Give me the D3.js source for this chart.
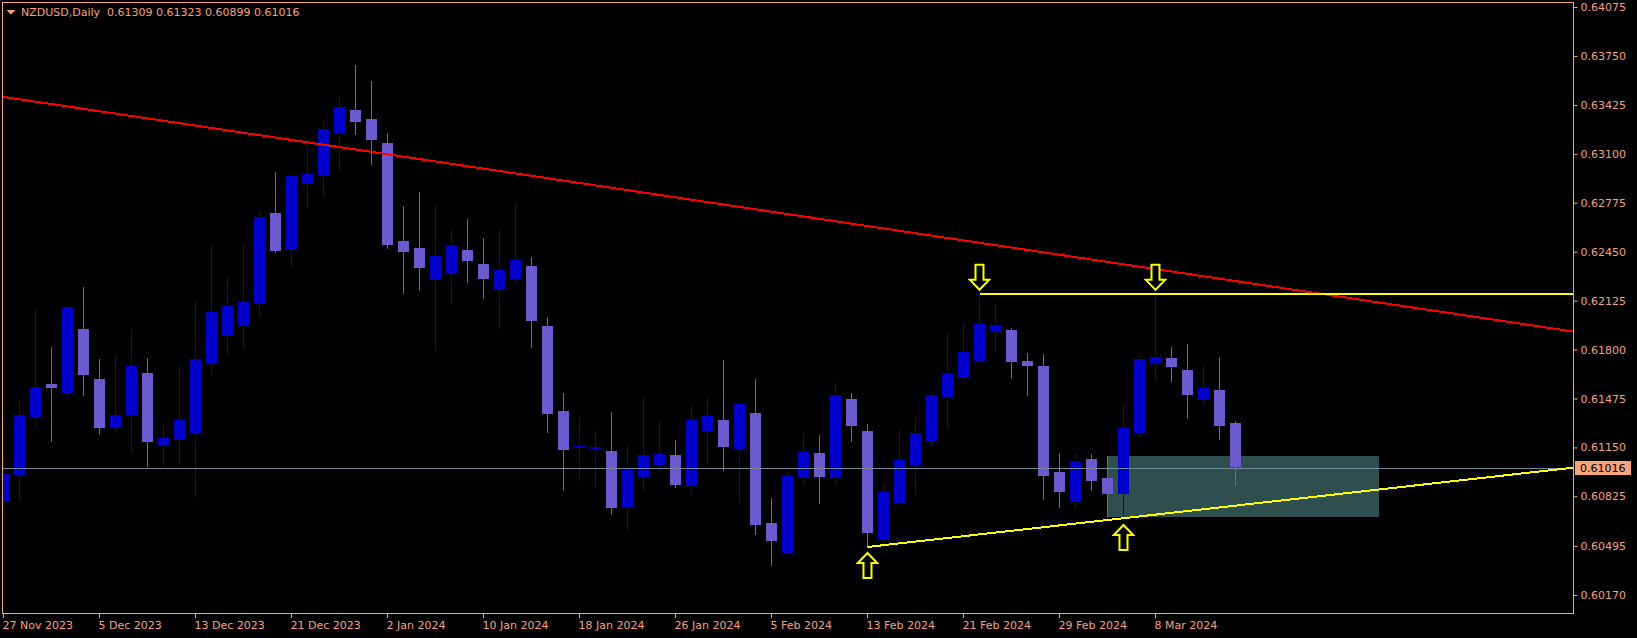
<!DOCTYPE html>
<html><head><meta charset="utf-8">
<script src="https://cdn.jsdelivr.net/npm/d3@7"></script>
<style>
html,body{margin:0;padding:0;background:#000;overflow:hidden}
svg{display:block;font-family:"DejaVu Sans",sans-serif}
</style></head>
<body><svg id="c" width="1637" height="638"></svg>
<script>
// ---------- DATA ----------
const symbol = "NZDUSD,Daily";
const lastQuote = [0.61309, 0.61323, 0.60899, 0.61016]; // O H L C of last bar
const bidPrice = 0.61016;

const dates = [
"27 Nov 2023","28 Nov 2023","29 Nov 2023","30 Nov 2023","1 Dec 2023","4 Dec 2023","5 Dec 2023","6 Dec 2023","7 Dec 2023","8 Dec 2023",
"11 Dec 2023","12 Dec 2023","13 Dec 2023","14 Dec 2023","15 Dec 2023","18 Dec 2023","19 Dec 2023","20 Dec 2023","21 Dec 2023","22 Dec 2023",
"26 Dec 2023","27 Dec 2023","28 Dec 2023","29 Dec 2023","2 Jan 2024","3 Jan 2024","4 Jan 2024","5 Jan 2024","8 Jan 2024","9 Jan 2024",
"10 Jan 2024","11 Jan 2024","12 Jan 2024","15 Jan 2024","16 Jan 2024","17 Jan 2024","18 Jan 2024","19 Jan 2024","22 Jan 2024","23 Jan 2024",
"24 Jan 2024","25 Jan 2024","26 Jan 2024","29 Jan 2024","30 Jan 2024","31 Jan 2024","1 Feb 2024","2 Feb 2024","5 Feb 2024","6 Feb 2024",
"7 Feb 2024","8 Feb 2024","9 Feb 2024","12 Feb 2024","13 Feb 2024","14 Feb 2024","15 Feb 2024","16 Feb 2024","19 Feb 2024","20 Feb 2024",
"21 Feb 2024","22 Feb 2024","23 Feb 2024","26 Feb 2024","27 Feb 2024","28 Feb 2024","29 Feb 2024","1 Mar 2024","4 Mar 2024","5 Mar 2024",
"6 Mar 2024","7 Mar 2024","8 Mar 2024","11 Mar 2024","12 Mar 2024","13 Mar 2024","14 Mar 2024","15 Mar 2024"];

const open = [
0.60788,0.60967,0.61352,0.61571,0.61512,0.61937,0.61605,0.61279,0.61365,0.61644,
0.61166,0.61199,0.61246,0.61704,0.61890,0.61957,0.62103,0.62707,0.62461,0.62900,
0.62953,0.63238,0.63391,0.63331,0.63172,0.62521,0.62475,0.62262,0.62302,0.62461,
0.62368,0.62196,0.62269,0.62355,0.61957,0.61392,0.61146,0.61140,0.61126,0.60755,
0.60954,0.61033,0.61100,0.60894,0.61259,0.61332,0.61140,0.61379,0.60648,0.60449,
0.60947,0.61113,0.60947,0.61472,0.61259,0.60535,0.60781,0.61027,0.61186,0.61485,
0.61611,0.61724,0.61917,0.61930,0.61724,0.61691,0.60987,0.60788,0.61073,0.60947,
0.60841,0.61246,0.61711,0.61744,0.61664,0.61465,0.61532,0.61309];

const high = [
0.61067,0.61465,0.62076,0.61817,0.62089,0.62216,0.61737,0.61764,0.61930,0.61744,
0.61312,0.61691,0.62129,0.62488,0.62289,0.62508,0.62720,0.62979,0.62959,0.63185,
0.63318,0.63484,0.63690,0.63584,0.63238,0.62753,0.62846,0.62767,0.62601,0.62667,
0.62541,0.62601,0.62773,0.62415,0.62016,0.61512,0.61352,0.61259,0.61385,0.61166,
0.61478,0.61319,0.61199,0.61432,0.61485,0.61731,0.61445,0.61605,0.60814,0.60987,
0.61239,0.61233,0.61578,0.61512,0.61306,0.60914,0.61273,0.61352,0.61518,0.61903,
0.61976,0.62171,0.62103,0.61943,0.61777,0.61771,0.61113,0.61113,0.61106,0.61093,
0.61439,0.61757,0.62170,0.61817,0.61837,0.61698,0.61751,0.61323];

const low = [
0.60774,0.60801,0.61292,0.61193,0.61472,0.61498,0.61239,0.61253,0.61120,0.61027,
0.61033,0.61040,0.60828,0.61644,0.61764,0.61810,0.62023,0.62448,0.62362,0.62747,
0.62820,0.62986,0.63232,0.63032,0.62475,0.62176,0.62196,0.61797,0.62109,0.62249,
0.62142,0.61943,0.62242,0.61817,0.61253,0.60867,0.60934,0.60881,0.60708,0.60602,
0.60874,0.60987,0.60887,0.60847,0.61040,0.61000,0.60788,0.60575,0.60369,0.60442,
0.60907,0.60781,0.60907,0.61193,0.60489,0.60496,0.60768,0.60847,0.61166,0.61279,
0.61598,0.61711,0.61791,0.61611,0.61498,0.60808,0.60755,0.60748,0.60867,0.60688,
0.60675,0.61219,0.61598,0.61591,0.61346,0.61439,0.61206,0.60899];

const close = [
0.60974,0.61365,0.61551,0.61545,0.62083,0.61631,0.61279,0.61365,0.61691,0.61186,
0.61213,0.61332,0.61737,0.62050,0.62089,0.62116,0.62680,0.62455,0.62953,0.62966,
0.63265,0.63411,0.63311,0.63192,0.62494,0.62448,0.62342,0.62421,0.62494,0.62388,
0.62269,0.62328,0.62395,0.61990,0.61372,0.61133,0.61160,0.61153,0.60748,0.61000,
0.61100,0.61106,0.60901,0.61332,0.61359,0.61153,0.61439,0.60635,0.60529,0.60960,
0.61120,0.60954,0.61498,0.61292,0.60582,0.60854,0.61067,0.61246,0.61498,0.61644,
0.61784,0.61970,0.61963,0.61717,0.61691,0.60960,0.60854,0.61060,0.60927,0.60841,
0.61279,0.61737,0.61751,0.61684,0.61498,0.61545,0.61292,0.61016];

const yTicks = [0.64075,0.63750,0.63425,0.63100,0.62775,0.62450,0.62125,0.61800,0.61475,0.61150,0.60825,0.60495,0.60170];
const xTickLabels = ["27 Nov 2023","5 Dec 2023","13 Dec 2023","21 Dec 2023","2 Jan 2024","10 Jan 2024","18 Jan 2024","26 Jan 2024","5 Feb 2024","13 Feb 2024","21 Feb 2024","29 Feb 2024","8 Mar 2024"];

// drawn objects
const redTrend = [["27 Nov 2023", 0.63478], ["15 Mar 2024", 0.62255]];
const supportTrend = [["13 Feb 2024", 0.60489], ["6 Mar 2024", 0.60680]];
const resistance = ["22 Feb 2024", 0.62171];
const zoneStart = "5 Mar 2024", zoneBars = 17, zoneTop = 0.61093, zoneBottom = 0.60690;
const arrowsDown = ["22 Feb 2024", "8 Mar 2024"];
const arrowsUp = ["13 Feb 2024", "6 Mar 2024"];

// ---------- STYLE / LAYOUT ----------
const FG = "#F6A27C";
const BULL = "#0000CD", BEAR = "#6A5ACD";
const plot = {left: 2.5, top: 2.5, right: 1573.5, bottom: 613.5};

const svg = d3.select("#c");
svg.append("rect").attr("width",1637).attr("height",638).attr("fill","#000");

const idx = d => dates.indexOf(d);
const x = d3.scaleLinear().domain([0, dates.length - 1]).range([3.5, 3.5 + 16 * (dates.length - 1)]);
const y = d3.scaleLinear().domain([yTicks[yTicks.length - 1], yTicks[0]]).range([595, 7]);

svg.append("defs").append("clipPath").attr("id","clip")
  .append("rect").attr("x", 3).attr("y", 3).attr("width", 1570).attr("height", 610);

const g = svg.append("g").attr("clip-path","url(#clip)");

// zone rectangle (background)
g.append("rect")
  .attr("x", x(idx(zoneStart)) - 0.5)
  .attr("y", Math.round(y(zoneTop)))
  .attr("width", x(idx(zoneStart) + zoneBars) - x(idx(zoneStart)))
  .attr("height", Math.round(y(zoneBottom)) - Math.round(y(zoneTop)))
  .attr("fill", "#2F4F4F");

// candles
const bars = dates.map((d, i) => ({i, o: open[i], h: high[i], l: low[i], c: close[i]}));
const col = d => d.c >= d.o ? BULL : BEAR;
g.append("g").selectAll("line").data(bars).join("line")
  .attr("x1", d => x(d.i)).attr("x2", d => x(d.i))
  .attr("y1", d => Math.round(y(d.h))).attr("y2", d => Math.round(y(d.l)) + 1)
  .attr("stroke", col).attr("stroke-width", 1).attr("shape-rendering","crispEdges");
g.append("g").selectAll("rect").data(bars).join("rect")
  .attr("x", d => x(d.i) - 5.5).attr("width", 11)
  .attr("y", d => Math.round(Math.min(y(d.o), y(d.c))))
  .attr("height", d => Math.max(2, Math.round(Math.abs(y(d.o) - y(d.c)))))
  .attr("fill", col);

// bid line
const yb = Math.round(y(bidPrice)) + 0.5;
g.append("line").attr("x1", plot.left).attr("x2", plot.right).attr("y1", yb).attr("y2", yb)
  .attr("stroke", "#778899").attr("stroke-width", 1);

// helpers for lines
const x0i = x.invert(plot.left), x1i = x.invert(plot.right);
function lineAt(a, b, i) {
  const ia = idx(a[0]), ib = idx(b[0]);
  return a[1] + (b[1] - a[1]) * (i - ia) / (ib - ia);
}
// red trendline (extended both ways)
g.append("line")
  .attr("x1", x(x0i)).attr("y1", y(lineAt(redTrend[0], redTrend[1], x0i)))
  .attr("x2", x(x1i)).attr("y2", y(lineAt(redTrend[0], redTrend[1], x1i)))
  .attr("stroke", "#FF0000").attr("stroke-width", 2).attr("shape-rendering","crispEdges");
// support ray
const s0 = idx(supportTrend[0][0]);
g.append("line")
  .attr("x1", x(s0)).attr("y1", y(supportTrend[0][1]))
  .attr("x2", x(x1i)).attr("y2", y(lineAt(supportTrend[0], supportTrend[1], x1i)))
  .attr("stroke", "#FFFF00").attr("stroke-width", 2).attr("shape-rendering","crispEdges");
// resistance ray
g.append("line")
  .attr("x1", x(idx(resistance[0]))).attr("x2", x(x1i))
  .attr("y1", y(resistance[1])).attr("y2", y(resistance[1]))
  .attr("stroke", "#FFFF00").attr("stroke-width", 2).attr("shape-rendering","crispEdges");

// arrows
const arrowPath = "M0,0 L-9.7,-10 L-4,-10 L-4,-25 L4,-25 L4,-10 L9.7,-10 Z";
arrowsDown.forEach(d => {
  const i = idx(d);
  g.append("path").attr("d", arrowPath)
    .attr("transform", `translate(${x(i)},${y(high[i]) - 4})`)
    .attr("fill", "#000").attr("stroke", "#FFFF00").attr("stroke-width", 2);
});
arrowsUp.forEach(d => {
  const i = idx(d);
  g.append("path").attr("d", arrowPath)
    .attr("transform", `translate(${x(i)},${y(low[i]) + 6}) scale(1,-1)`)
    .attr("fill", "#000").attr("stroke", "#FFFF00").attr("stroke-width", 2);
});

// frame
svg.append("rect").attr("x", plot.left).attr("y", plot.top)
  .attr("width", plot.right - plot.left).attr("height", plot.bottom - plot.top)
  .attr("fill", "none").attr("stroke", FG).attr("stroke-width", 1);

// y axis
const ya = svg.append("g").attr("transform", `translate(${plot.right},0)`)
  .call(d3.axisRight(y).tickValues(yTicks).tickFormat(d3.format(".5f")).tickSize(4).tickPadding(3).offset(0.5));
ya.select(".domain").remove();
ya.selectAll("line").attr("stroke", FG);
ya.selectAll("text").attr("fill", FG).attr("font-size", 11).attr("font-family", "DejaVu Sans");

// x axis
const xa = svg.append("g").attr("transform", `translate(0,${plot.bottom + 0.5})`)
  .call(d3.axisBottom(x).tickValues(xTickLabels.map(idx)).tickFormat(i => dates[i]).tickSize(4).offset(0));
xa.select(".domain").remove();
xa.selectAll("line").attr("stroke", FG);
xa.selectAll("text").attr("fill", FG).attr("font-size", 11).attr("font-family", "DejaVu Sans")
  .attr("text-anchor", "start").attr("x", -1).attr("y", 7).attr("dy", "0.71em");

// header
svg.append("path").attr("d", "M6.5,10 L15.5,10 L11,14.5 Z").attr("fill", FG);
svg.append("text").attr("x", 21).attr("y", 12.5).attr("dominant-baseline", "central")
  .attr("fill", FG).attr("font-size", 11).style("white-space", "pre")
  .text(symbol + "  " + lastQuote.map(d3.format(".5f")).join(" "));

// bid price label
svg.append("rect").attr("x", 1575).attr("y", yb - 7.5).attr("width", 56).attr("height", 14).attr("fill", FG);
svg.append("text").attr("x", 1580).attr("y", yb).attr("dominant-baseline", "central")
  .attr("fill", "#000").attr("font-size", 11).text(d3.format(".5f")(bidPrice));
</script>
</body></html>
